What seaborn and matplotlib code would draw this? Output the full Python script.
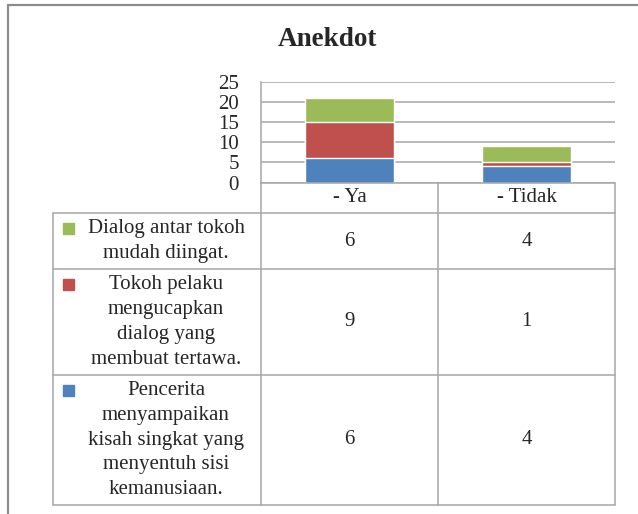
import numpy as np
import matplotlib
matplotlib.use("Agg")
import matplotlib.pyplot as plt
import seaborn as sns

# data
categories = ["- Ya", "- Tidak"]
series_names = [
    "Pencerita\nmenyampaikan\nkisah singkat yang\nmenyentuh sisi\nkemanusiaan.",
    "Tokoh pelaku\nmengucapkan\ndialog yang\nmembuat tertawa.",
    "Dialog antar tokoh\nmudah diingat.",
]
pencerita = [6, 4]
tokoh = [9, 1]
dialog = [6, 4]
colors = ["#4F81BD", "#C0504D", "#9BBB59"]
yticks = [0, 5, 10, 15, 20, 25]

sns.set_style("white")
plt.rcParams["font.family"] = ["Liberation Serif", "DejaVu Serif"]

W, H = 638, 514
fig = plt.figure(figsize=(W / 100, H / 100), dpi=100)

# plot area (pixel box -> figure fraction)
px_l, px_r, px_t, px_b = 261, 615, 82, 182.5
ax = fig.add_axes([px_l / W, 1 - px_b / H, (px_r - px_l) / W, (px_b - px_t) / H])

series = [pencerita, tokoh, dialog]
cum = np.cumsum(np.array(series), axis=0)
# draw tallest layer first so the stacks show through
for i in range(len(series) - 1, -1, -1):
    sns.barplot(x=categories, y=cum[i], color=colors[i], saturation=1,
                width=0.5, ax=ax, zorder=3)

ax.set_xlim(-0.5, 1.5)
ax.set_ylim(0, 25)
ax.set_yticks(yticks)
ax.set_yticklabels([str(t) for t in yticks], fontsize=15)
ax.tick_params(axis="y", length=0, pad=16)
ax.set_xticks([])
ax.set_xlabel("")
ax.set_ylabel("")
ax.grid(axis="y", color="#A6A6A6", linewidth=1.1)
ax.set_axisbelow(True)
for s in ["top", "right", "bottom"]:
    ax.spines[s].set_visible(False)
ax.spines["left"].set_color("#A6A6A6")
ax.spines["left"].set_linewidth(1.1)

# overlay in pixel coordinates for title, frame and data table
ov = fig.add_axes([0, 0, 1, 1])
ov.set_xlim(0, W)
ov.set_ylim(H, 0)
ov.axis("off")

# outer chart frame
ov.plot([8, 8], [5, H], color="#8C8C8C", lw=1.6)
ov.plot([8, W], [5, 5], color="#8C8C8C", lw=1.6)

ov.text(327, 40, "Anekdot", ha="center", va="center", fontsize=19.5, fontweight="bold")

# table grid
gc, glw = "#A6A6A6", 1.1
col_x = [261, 438, 615]
row_y = [213, 269, 375, 505]
ov.plot([261, 615], [182.5, 182.5], color=gc, lw=glw)
for y in row_y:
    ov.plot([53, 615], [y, y], color=gc, lw=glw)
ov.plot([53, 53], [213, 505], color=gc, lw=glw)
for x in col_x:
    ov.plot([x, x], [182.5, 505], color=gc, lw=glw)

for j, cat in enumerate(categories):
    cx = (col_x[j] + col_x[j + 1]) / 2
    ov.text(cx, 197, cat, ha="center", va="center", fontsize=15)

# rows: top row is the last series
for r, i in enumerate(range(len(series) - 1, -1, -1)):
    top, bot = row_y[r], row_y[r + 1]
    cy = (top + bot) / 2
    ov.add_patch(plt.Rectangle((63, top + 10), 11, 11, color=colors[i]))
    ov.text(166, cy, series_names[i], ha="center", va="center",
            multialignment="center", fontsize=15, linespacing=1.41)
    for j in range(len(categories)):
        cx = (col_x[j] + col_x[j + 1]) / 2
        ov.text(cx, cy, str(series[i][j]), ha="center", va="center", fontsize=15)

fig.savefig("out.png", dpi=100)
